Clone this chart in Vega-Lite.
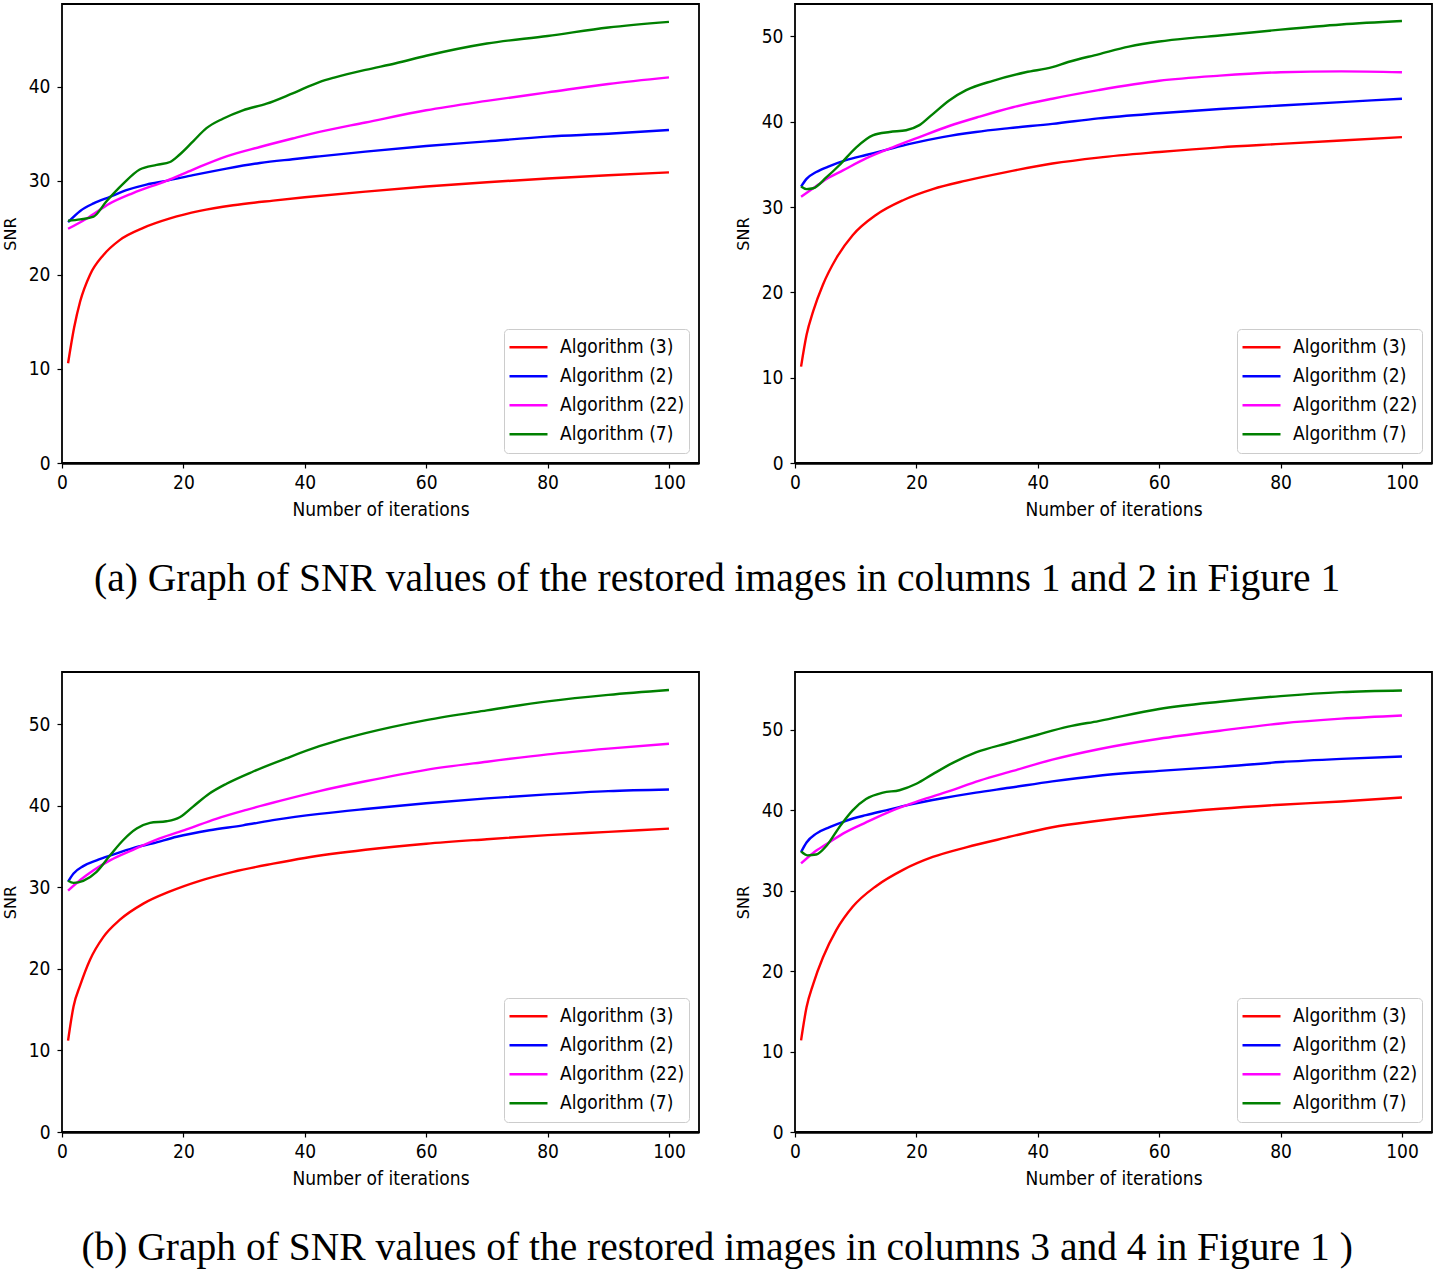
{
  "$schema": "https://vega.github.io/schema/vega-lite/v6.json",
  "padding": {"left": 1, "top": 3, "right": 2, "bottom": 2},
  "background": "white",
  "datasets": {
    "p1": [
      {"a": "Algorithm (3)", "x": 1, "y": 10.6}, {"a": "Algorithm (3)", "x": 2, "y": 14.4}, {"a": "Algorithm (3)", "x": 3, "y": 17.2}, {"a": "Algorithm (3)", "x": 4.6, "y": 20.0}, {"a": "Algorithm (3)", "x": 6.8, "y": 22.1}, {"a": "Algorithm (3)", "x": 9.5, "y": 23.7}, {"a": "Algorithm (3)", "x": 13.4, "y": 25.0}, {"a": "Algorithm (3)", "x": 17.8, "y": 26.0}, {"a": "Algorithm (3)", "x": 22.7, "y": 26.8}, {"a": "Algorithm (3)", "x": 28.2, "y": 27.4}, {"a": "Algorithm (3)", "x": 34.8, "y": 27.9}, {"a": "Algorithm (3)", "x": 40, "y": 28.25}, {"a": "Algorithm (3)", "x": 50, "y": 28.85}, {"a": "Algorithm (3)", "x": 60, "y": 29.4}, {"a": "Algorithm (3)", "x": 70, "y": 29.85}, {"a": "Algorithm (3)", "x": 80, "y": 30.25}, {"a": "Algorithm (3)", "x": 90, "y": 30.6}, {"a": "Algorithm (3)", "x": 100, "y": 30.9},
      {"a": "Algorithm (2)", "x": 1, "y": 25.6}, {"a": "Algorithm (2)", "x": 3, "y": 26.8}, {"a": "Algorithm (2)", "x": 5.2, "y": 27.6}, {"a": "Algorithm (2)", "x": 7.9, "y": 28.3}, {"a": "Algorithm (2)", "x": 10.6, "y": 29.0}, {"a": "Algorithm (2)", "x": 13.9, "y": 29.6}, {"a": "Algorithm (2)", "x": 17.2, "y": 30.0}, {"a": "Algorithm (2)", "x": 21.6, "y": 30.6}, {"a": "Algorithm (2)", "x": 27.1, "y": 31.3}, {"a": "Algorithm (2)", "x": 32.6, "y": 31.9}, {"a": "Algorithm (2)", "x": 38, "y": 32.3}, {"a": "Algorithm (2)", "x": 42.4, "y": 32.6}, {"a": "Algorithm (2)", "x": 50, "y": 33.1}, {"a": "Algorithm (2)", "x": 60, "y": 33.7}, {"a": "Algorithm (2)", "x": 70, "y": 34.2}, {"a": "Algorithm (2)", "x": 80, "y": 34.7}, {"a": "Algorithm (2)", "x": 90, "y": 35.0}, {"a": "Algorithm (2)", "x": 100, "y": 35.4},
      {"a": "Algorithm (22)", "x": 1, "y": 24.9}, {"a": "Algorithm (22)", "x": 4.1, "y": 26.0}, {"a": "Algorithm (22)", "x": 7.9, "y": 27.6}, {"a": "Algorithm (22)", "x": 11.7, "y": 28.7}, {"a": "Algorithm (22)", "x": 17.2, "y": 30.0}, {"a": "Algorithm (22)", "x": 21.6, "y": 31.2}, {"a": "Algorithm (22)", "x": 27.1, "y": 32.6}, {"a": "Algorithm (22)", "x": 32.6, "y": 33.6}, {"a": "Algorithm (22)", "x": 38, "y": 34.5}, {"a": "Algorithm (22)", "x": 42.4, "y": 35.2}, {"a": "Algorithm (22)", "x": 50, "y": 36.2}, {"a": "Algorithm (22)", "x": 60, "y": 37.5}, {"a": "Algorithm (22)", "x": 70, "y": 38.5}, {"a": "Algorithm (22)", "x": 80, "y": 39.4}, {"a": "Algorithm (22)", "x": 90, "y": 40.3}, {"a": "Algorithm (22)", "x": 100, "y": 41.0},
      {"a": "Algorithm (7)", "x": 1, "y": 25.75}, {"a": "Algorithm (7)", "x": 3, "y": 25.9}, {"a": "Algorithm (7)", "x": 5.2, "y": 26.2}, {"a": "Algorithm (7)", "x": 7.3, "y": 27.8}, {"a": "Algorithm (7)", "x": 10.1, "y": 29.7}, {"a": "Algorithm (7)", "x": 12.8, "y": 31.2}, {"a": "Algorithm (7)", "x": 15.6, "y": 31.7}, {"a": "Algorithm (7)", "x": 17.8, "y": 32.0}, {"a": "Algorithm (7)", "x": 19.4, "y": 32.8}, {"a": "Algorithm (7)", "x": 21.6, "y": 34.2}, {"a": "Algorithm (7)", "x": 23.8, "y": 35.6}, {"a": "Algorithm (7)", "x": 26.5, "y": 36.6}, {"a": "Algorithm (7)", "x": 29.8, "y": 37.5}, {"a": "Algorithm (7)", "x": 33.7, "y": 38.2}, {"a": "Algorithm (7)", "x": 38, "y": 39.3}, {"a": "Algorithm (7)", "x": 42.4, "y": 40.5}, {"a": "Algorithm (7)", "x": 45, "y": 41.0}, {"a": "Algorithm (7)", "x": 50, "y": 41.8}, {"a": "Algorithm (7)", "x": 55, "y": 42.5}, {"a": "Algorithm (7)", "x": 60, "y": 43.3}, {"a": "Algorithm (7)", "x": 70, "y": 44.6}, {"a": "Algorithm (7)", "x": 80, "y": 45.4}, {"a": "Algorithm (7)", "x": 90, "y": 46.3}, {"a": "Algorithm (7)", "x": 100, "y": 46.9}
    ],
    "p2": [
      {"a": "Algorithm (3)", "x": 1, "y": 11.3}, {"a": "Algorithm (3)", "x": 1.9, "y": 15.0}, {"a": "Algorithm (3)", "x": 3, "y": 17.8}, {"a": "Algorithm (3)", "x": 4.6, "y": 20.9}, {"a": "Algorithm (3)", "x": 6.8, "y": 24.0}, {"a": "Algorithm (3)", "x": 9.5, "y": 26.7}, {"a": "Algorithm (3)", "x": 13.4, "y": 29.1}, {"a": "Algorithm (3)", "x": 17.8, "y": 30.8}, {"a": "Algorithm (3)", "x": 22.7, "y": 32.1}, {"a": "Algorithm (3)", "x": 28.2, "y": 33.1}, {"a": "Algorithm (3)", "x": 34.8, "y": 34.1}, {"a": "Algorithm (3)", "x": 42.4, "y": 35.1}, {"a": "Algorithm (3)", "x": 50, "y": 35.8}, {"a": "Algorithm (3)", "x": 60, "y": 36.45}, {"a": "Algorithm (3)", "x": 70, "y": 37.0}, {"a": "Algorithm (3)", "x": 80, "y": 37.4}, {"a": "Algorithm (3)", "x": 90, "y": 37.8}, {"a": "Algorithm (3)", "x": 100, "y": 38.2},
      {"a": "Algorithm (2)", "x": 1, "y": 32.4}, {"a": "Algorithm (2)", "x": 1.9, "y": 33.3}, {"a": "Algorithm (2)", "x": 3.5, "y": 34.1}, {"a": "Algorithm (2)", "x": 5.7, "y": 34.8}, {"a": "Algorithm (2)", "x": 8.4, "y": 35.5}, {"a": "Algorithm (2)", "x": 11.7, "y": 36.1}, {"a": "Algorithm (2)", "x": 15, "y": 36.7}, {"a": "Algorithm (2)", "x": 18.9, "y": 37.4}, {"a": "Algorithm (2)", "x": 24.3, "y": 38.2}, {"a": "Algorithm (2)", "x": 29.8, "y": 38.8}, {"a": "Algorithm (2)", "x": 35.3, "y": 39.25}, {"a": "Algorithm (2)", "x": 42.4, "y": 39.75}, {"a": "Algorithm (2)", "x": 50, "y": 40.4}, {"a": "Algorithm (2)", "x": 60, "y": 41.0}, {"a": "Algorithm (2)", "x": 70, "y": 41.5}, {"a": "Algorithm (2)", "x": 80, "y": 41.9}, {"a": "Algorithm (2)", "x": 90, "y": 42.3}, {"a": "Algorithm (2)", "x": 100, "y": 42.7},
      {"a": "Algorithm (22)", "x": 1, "y": 31.2}, {"a": "Algorithm (22)", "x": 3, "y": 32.2}, {"a": "Algorithm (22)", "x": 5.2, "y": 33.3}, {"a": "Algorithm (22)", "x": 7.9, "y": 34.3}, {"a": "Algorithm (22)", "x": 11.7, "y": 35.7}, {"a": "Algorithm (22)", "x": 16.1, "y": 37.0}, {"a": "Algorithm (22)", "x": 20.5, "y": 38.2}, {"a": "Algorithm (22)", "x": 25.4, "y": 39.5}, {"a": "Algorithm (22)", "x": 30.4, "y": 40.6}, {"a": "Algorithm (22)", "x": 35.9, "y": 41.7}, {"a": "Algorithm (22)", "x": 42.4, "y": 42.7}, {"a": "Algorithm (22)", "x": 50, "y": 43.7}, {"a": "Algorithm (22)", "x": 60, "y": 44.8}, {"a": "Algorithm (22)", "x": 70, "y": 45.4}, {"a": "Algorithm (22)", "x": 80, "y": 45.8}, {"a": "Algorithm (22)", "x": 90, "y": 45.9}, {"a": "Algorithm (22)", "x": 100, "y": 45.8},
      {"a": "Algorithm (7)", "x": 1, "y": 32.4}, {"a": "Algorithm (7)", "x": 1.9, "y": 32.1}, {"a": "Algorithm (7)", "x": 3, "y": 32.2}, {"a": "Algorithm (7)", "x": 5.2, "y": 33.5}, {"a": "Algorithm (7)", "x": 7.3, "y": 34.9}, {"a": "Algorithm (7)", "x": 10.1, "y": 37.0}, {"a": "Algorithm (7)", "x": 12.8, "y": 38.4}, {"a": "Algorithm (7)", "x": 15.6, "y": 38.8}, {"a": "Algorithm (7)", "x": 18.3, "y": 39.0}, {"a": "Algorithm (7)", "x": 20.5, "y": 39.6}, {"a": "Algorithm (7)", "x": 22.7, "y": 40.9}, {"a": "Algorithm (7)", "x": 25.4, "y": 42.5}, {"a": "Algorithm (7)", "x": 28.2, "y": 43.7}, {"a": "Algorithm (7)", "x": 32.6, "y": 44.8}, {"a": "Algorithm (7)", "x": 38, "y": 45.8}, {"a": "Algorithm (7)", "x": 42.4, "y": 46.4}, {"a": "Algorithm (7)", "x": 45, "y": 47.0}, {"a": "Algorithm (7)", "x": 50, "y": 47.9}, {"a": "Algorithm (7)", "x": 55, "y": 48.8}, {"a": "Algorithm (7)", "x": 60, "y": 49.4}, {"a": "Algorithm (7)", "x": 65, "y": 49.8}, {"a": "Algorithm (7)", "x": 70, "y": 50.1}, {"a": "Algorithm (7)", "x": 80, "y": 50.8}, {"a": "Algorithm (7)", "x": 90, "y": 51.4}, {"a": "Algorithm (7)", "x": 100, "y": 51.8}
    ],
    "p3": [
      {"a": "Algorithm (3)", "x": 1, "y": 11.2}, {"a": "Algorithm (3)", "x": 1.9, "y": 15.4}, {"a": "Algorithm (3)", "x": 3, "y": 18.0}, {"a": "Algorithm (3)", "x": 4.6, "y": 21.1}, {"a": "Algorithm (3)", "x": 6.8, "y": 23.9}, {"a": "Algorithm (3)", "x": 9.5, "y": 26.0}, {"a": "Algorithm (3)", "x": 13.4, "y": 28.0}, {"a": "Algorithm (3)", "x": 17.8, "y": 29.5}, {"a": "Algorithm (3)", "x": 22.7, "y": 30.8}, {"a": "Algorithm (3)", "x": 28.2, "y": 31.9}, {"a": "Algorithm (3)", "x": 34.8, "y": 32.9}, {"a": "Algorithm (3)", "x": 40, "y": 33.6}, {"a": "Algorithm (3)", "x": 50, "y": 34.6}, {"a": "Algorithm (3)", "x": 60, "y": 35.35}, {"a": "Algorithm (3)", "x": 70, "y": 35.9}, {"a": "Algorithm (3)", "x": 80, "y": 36.4}, {"a": "Algorithm (3)", "x": 90, "y": 36.8}, {"a": "Algorithm (3)", "x": 100, "y": 37.2},
      {"a": "Algorithm (2)", "x": 1, "y": 30.7}, {"a": "Algorithm (2)", "x": 1.9, "y": 31.7}, {"a": "Algorithm (2)", "x": 3.5, "y": 32.6}, {"a": "Algorithm (2)", "x": 5.7, "y": 33.3}, {"a": "Algorithm (2)", "x": 8.4, "y": 34.0}, {"a": "Algorithm (2)", "x": 11.7, "y": 34.8}, {"a": "Algorithm (2)", "x": 15, "y": 35.4}, {"a": "Algorithm (2)", "x": 18.9, "y": 36.2}, {"a": "Algorithm (2)", "x": 24.3, "y": 37.0}, {"a": "Algorithm (2)", "x": 29.8, "y": 37.6}, {"a": "Algorithm (2)", "x": 35.3, "y": 38.3}, {"a": "Algorithm (2)", "x": 42.4, "y": 39.0}, {"a": "Algorithm (2)", "x": 50, "y": 39.6}, {"a": "Algorithm (2)", "x": 60, "y": 40.3}, {"a": "Algorithm (2)", "x": 70, "y": 40.9}, {"a": "Algorithm (2)", "x": 80, "y": 41.4}, {"a": "Algorithm (2)", "x": 90, "y": 41.8}, {"a": "Algorithm (2)", "x": 100, "y": 42.0},
      {"a": "Algorithm (22)", "x": 1, "y": 29.6}, {"a": "Algorithm (22)", "x": 3, "y": 30.9}, {"a": "Algorithm (22)", "x": 5.2, "y": 32.1}, {"a": "Algorithm (22)", "x": 7.9, "y": 33.3}, {"a": "Algorithm (22)", "x": 11.7, "y": 34.6}, {"a": "Algorithm (22)", "x": 16.1, "y": 36.0}, {"a": "Algorithm (22)", "x": 20.5, "y": 37.1}, {"a": "Algorithm (22)", "x": 25.4, "y": 38.4}, {"a": "Algorithm (22)", "x": 30.4, "y": 39.5}, {"a": "Algorithm (22)", "x": 35.9, "y": 40.6}, {"a": "Algorithm (22)", "x": 42.4, "y": 41.8}, {"a": "Algorithm (22)", "x": 50, "y": 43.0}, {"a": "Algorithm (22)", "x": 60, "y": 44.4}, {"a": "Algorithm (22)", "x": 70, "y": 45.4}, {"a": "Algorithm (22)", "x": 80, "y": 46.3}, {"a": "Algorithm (22)", "x": 90, "y": 47.0}, {"a": "Algorithm (22)", "x": 100, "y": 47.6},
      {"a": "Algorithm (7)", "x": 1, "y": 30.8}, {"a": "Algorithm (7)", "x": 1.9, "y": 30.55}, {"a": "Algorithm (7)", "x": 3.5, "y": 30.8}, {"a": "Algorithm (7)", "x": 5.7, "y": 31.9}, {"a": "Algorithm (7)", "x": 7.9, "y": 33.9}, {"a": "Algorithm (7)", "x": 10.1, "y": 35.8}, {"a": "Algorithm (7)", "x": 12.3, "y": 37.2}, {"a": "Algorithm (7)", "x": 14.5, "y": 37.9}, {"a": "Algorithm (7)", "x": 17.2, "y": 38.1}, {"a": "Algorithm (7)", "x": 19.4, "y": 38.6}, {"a": "Algorithm (7)", "x": 21.6, "y": 39.9}, {"a": "Algorithm (7)", "x": 24.3, "y": 41.5}, {"a": "Algorithm (7)", "x": 27.1, "y": 42.7}, {"a": "Algorithm (7)", "x": 31.5, "y": 44.2}, {"a": "Algorithm (7)", "x": 36.9, "y": 45.8}, {"a": "Algorithm (7)", "x": 42.4, "y": 47.3}, {"a": "Algorithm (7)", "x": 45, "y": 47.9}, {"a": "Algorithm (7)", "x": 50, "y": 48.9}, {"a": "Algorithm (7)", "x": 60, "y": 50.5}, {"a": "Algorithm (7)", "x": 70, "y": 51.7}, {"a": "Algorithm (7)", "x": 80, "y": 52.8}, {"a": "Algorithm (7)", "x": 90, "y": 53.6}, {"a": "Algorithm (7)", "x": 100, "y": 54.2}
    ],
    "p4": [
      {"a": "Algorithm (3)", "x": 1, "y": 11.4}, {"a": "Algorithm (3)", "x": 1.9, "y": 15.5}, {"a": "Algorithm (3)", "x": 3, "y": 18.4}, {"a": "Algorithm (3)", "x": 4.6, "y": 21.7}, {"a": "Algorithm (3)", "x": 6.8, "y": 25.1}, {"a": "Algorithm (3)", "x": 9.5, "y": 28.0}, {"a": "Algorithm (3)", "x": 13.4, "y": 30.6}, {"a": "Algorithm (3)", "x": 17.8, "y": 32.6}, {"a": "Algorithm (3)", "x": 22.7, "y": 34.2}, {"a": "Algorithm (3)", "x": 28.2, "y": 35.4}, {"a": "Algorithm (3)", "x": 34.8, "y": 36.6}, {"a": "Algorithm (3)", "x": 42.4, "y": 37.9}, {"a": "Algorithm (3)", "x": 50, "y": 38.7}, {"a": "Algorithm (3)", "x": 60, "y": 39.55}, {"a": "Algorithm (3)", "x": 70, "y": 40.2}, {"a": "Algorithm (3)", "x": 80, "y": 40.7}, {"a": "Algorithm (3)", "x": 90, "y": 41.1}, {"a": "Algorithm (3)", "x": 100, "y": 41.6},
      {"a": "Algorithm (2)", "x": 1, "y": 34.8}, {"a": "Algorithm (2)", "x": 1.9, "y": 36.0}, {"a": "Algorithm (2)", "x": 3.5, "y": 37.1}, {"a": "Algorithm (2)", "x": 5.7, "y": 37.9}, {"a": "Algorithm (2)", "x": 8.4, "y": 38.7}, {"a": "Algorithm (2)", "x": 11.7, "y": 39.4}, {"a": "Algorithm (2)", "x": 15, "y": 40.0}, {"a": "Algorithm (2)", "x": 18.9, "y": 40.7}, {"a": "Algorithm (2)", "x": 24.3, "y": 41.5}, {"a": "Algorithm (2)", "x": 29.8, "y": 42.2}, {"a": "Algorithm (2)", "x": 35.3, "y": 42.8}, {"a": "Algorithm (2)", "x": 42.4, "y": 43.6}, {"a": "Algorithm (2)", "x": 50, "y": 44.3}, {"a": "Algorithm (2)", "x": 60, "y": 44.9}, {"a": "Algorithm (2)", "x": 70, "y": 45.4}, {"a": "Algorithm (2)", "x": 80, "y": 46.0}, {"a": "Algorithm (2)", "x": 90, "y": 46.4}, {"a": "Algorithm (2)", "x": 100, "y": 46.7},
      {"a": "Algorithm (22)", "x": 1, "y": 33.4}, {"a": "Algorithm (22)", "x": 3, "y": 34.7}, {"a": "Algorithm (22)", "x": 5.2, "y": 35.8}, {"a": "Algorithm (22)", "x": 7.9, "y": 37.1}, {"a": "Algorithm (22)", "x": 11.7, "y": 38.5}, {"a": "Algorithm (22)", "x": 16.1, "y": 40.0}, {"a": "Algorithm (22)", "x": 20.5, "y": 41.2}, {"a": "Algorithm (22)", "x": 25.4, "y": 42.4}, {"a": "Algorithm (22)", "x": 30.4, "y": 43.7}, {"a": "Algorithm (22)", "x": 35.9, "y": 44.9}, {"a": "Algorithm (22)", "x": 42.4, "y": 46.3}, {"a": "Algorithm (22)", "x": 50, "y": 47.6}, {"a": "Algorithm (22)", "x": 60, "y": 48.9}, {"a": "Algorithm (22)", "x": 70, "y": 49.9}, {"a": "Algorithm (22)", "x": 80, "y": 50.8}, {"a": "Algorithm (22)", "x": 90, "y": 51.4}, {"a": "Algorithm (22)", "x": 100, "y": 51.8},
      {"a": "Algorithm (7)", "x": 1, "y": 34.9}, {"a": "Algorithm (7)", "x": 2.1, "y": 34.4}, {"a": "Algorithm (7)", "x": 3.5, "y": 34.5}, {"a": "Algorithm (7)", "x": 5.2, "y": 35.6}, {"a": "Algorithm (7)", "x": 7.3, "y": 37.9}, {"a": "Algorithm (7)", "x": 9.5, "y": 40.0}, {"a": "Algorithm (7)", "x": 11.7, "y": 41.4}, {"a": "Algorithm (7)", "x": 14.5, "y": 42.2}, {"a": "Algorithm (7)", "x": 17.2, "y": 42.5}, {"a": "Algorithm (7)", "x": 20, "y": 43.3}, {"a": "Algorithm (7)", "x": 22.7, "y": 44.5}, {"a": "Algorithm (7)", "x": 26, "y": 45.9}, {"a": "Algorithm (7)", "x": 29.8, "y": 47.2}, {"a": "Algorithm (7)", "x": 35.3, "y": 48.4}, {"a": "Algorithm (7)", "x": 40, "y": 49.4}, {"a": "Algorithm (7)", "x": 45, "y": 50.4}, {"a": "Algorithm (7)", "x": 50, "y": 51.1}, {"a": "Algorithm (7)", "x": 60, "y": 52.6}, {"a": "Algorithm (7)", "x": 70, "y": 53.5}, {"a": "Algorithm (7)", "x": 80, "y": 54.2}, {"a": "Algorithm (7)", "x": 90, "y": 54.7}, {"a": "Algorithm (7)", "x": 100, "y": 54.9}
    ]
  },
  "vconcat": [
    {
      "title": {"text": "(a) Graph of SNR values of the restored images in columns 1 and 2 in Figure 1", "orient": "bottom", "anchor": "middle", "offset": 40},
      "spacing": 34,
      "hconcat": [
        {
          "width": 637, "height": 459,
          "data": {"name": "p1"},
          "mark": {"type": "line", "strokeWidth": 2.4, "interpolate": "monotone"},
          "encoding": {
            "x": {"field": "x", "type": "quantitative", "scale": {"domain": [0, 104.95], "nice": false, "zero": false}, "axis": {"values": [0, 20, 40, 60, 80, 100], "title": "Number of iterations"}},
            "y": {"field": "y", "type": "quantitative", "scale": {"domain": [0, 48.8], "nice": false}, "axis": {"values": [0, 10, 20, 30, 40], "title": "SNR"}},
            "color": {"field": "a", "type": "nominal", "scale": {"domain": ["Algorithm (3)", "Algorithm (2)", "Algorithm (22)", "Algorithm (7)"], "range": ["#ff0000", "#0000ff", "#ff00ff", "#008000"]}, "legend": {"title": null}}
          }
        },
        {
          "width": 637, "height": 459,
          "data": {"name": "p2"},
          "mark": {"type": "line", "strokeWidth": 2.4, "interpolate": "monotone"},
          "encoding": {
            "x": {"field": "x", "type": "quantitative", "scale": {"domain": [0, 104.95], "nice": false, "zero": false}, "axis": {"values": [0, 20, 40, 60, 80, 100], "title": "Number of iterations"}},
            "y": {"field": "y", "type": "quantitative", "scale": {"domain": [0, 53.8], "nice": false}, "axis": {"values": [0, 10, 20, 30, 40, 50], "title": "SNR"}},
            "color": {"field": "a", "type": "nominal", "scale": {"domain": ["Algorithm (3)", "Algorithm (2)", "Algorithm (22)", "Algorithm (7)"], "range": ["#ff0000", "#0000ff", "#ff00ff", "#008000"]}, "legend": {"title": null}}
          }
        }
      ],
      "resolve": {"scale": {"color": "independent", "x": "independent", "y": "independent"}, "legend": {"color": "independent"}}
    },
    {
      "title": {"text": "(b) Graph of SNR values of the restored images in columns 3 and 4 in Figure 1 )", "orient": "bottom", "anchor": "middle", "offset": 40},
      "spacing": 34,
      "hconcat": [
        {
          "width": 637, "height": 460,
          "data": {"name": "p3"},
          "mark": {"type": "line", "strokeWidth": 2.4, "interpolate": "monotone"},
          "encoding": {
            "x": {"field": "x", "type": "quantitative", "scale": {"domain": [0, 104.95], "nice": false, "zero": false}, "axis": {"values": [0, 20, 40, 60, 80, 100], "title": "Number of iterations"}},
            "y": {"field": "y", "type": "quantitative", "scale": {"domain": [0, 56.4], "nice": false}, "axis": {"values": [0, 10, 20, 30, 40, 50], "title": "SNR"}},
            "color": {"field": "a", "type": "nominal", "scale": {"domain": ["Algorithm (3)", "Algorithm (2)", "Algorithm (22)", "Algorithm (7)"], "range": ["#ff0000", "#0000ff", "#ff00ff", "#008000"]}, "legend": {"title": null}}
          }
        },
        {
          "width": 637, "height": 460,
          "data": {"name": "p4"},
          "mark": {"type": "line", "strokeWidth": 2.4, "interpolate": "monotone"},
          "encoding": {
            "x": {"field": "x", "type": "quantitative", "scale": {"domain": [0, 104.95], "nice": false, "zero": false}, "axis": {"values": [0, 20, 40, 60, 80, 100], "title": "Number of iterations"}},
            "y": {"field": "y", "type": "quantitative", "scale": {"domain": [0, 57.2], "nice": false}, "axis": {"values": [0, 10, 20, 30, 40, 50], "title": "SNR"}},
            "color": {"field": "a", "type": "nominal", "scale": {"domain": ["Algorithm (3)", "Algorithm (2)", "Algorithm (22)", "Algorithm (7)"], "range": ["#ff0000", "#0000ff", "#ff00ff", "#008000"]}, "legend": {"title": null}}
          }
        }
      ],
      "resolve": {"scale": {"color": "independent", "x": "independent", "y": "independent"}, "legend": {"color": "independent"}}
    }
  ],
  "spacing": 72,
  "resolve": {"scale": {"color": "independent", "x": "independent", "y": "independent"}, "legend": {"color": "independent"}},
  "config": {
    "view": {"stroke": "black", "strokeWidth": 1.8},
    "axis": {"grid": false, "domain": false, "labelFlush": false, "tickColor": "black", "tickSize": 5, "tickWidth": 1.2, "labelFont": "DejaVu Sans Condensed", "labelFontSize": 19, "labelColor": "black", "labelPadding": 5, "titleFont": "DejaVu Sans Condensed", "titleFontSize": 19, "titleFontWeight": "normal", "titleColor": "black"},
    "axisX": {"titlePadding": 8, "domain": true, "domainColor": "black", "domainWidth": 2.6},
    "axisY": {"titleFont": "DejaVu Sans", "titleFontSize": 16, "titlePadding": 10, "labelPadding": 7},
    "legend": {"orient": "bottom-right", "offset": 10, "symbolType": "stroke", "symbolSize": 1444, "symbolStrokeWidth": 2.6, "clipHeight": 28.5, "labelFont": "DejaVu Sans Condensed", "labelFontSize": 19, "labelColor": "black", "labelOffset": 11, "rowPadding": 0, "padding": 4, "fillColor": "white", "strokeColor": "#cccccc", "cornerRadius": 4},
    "title": {"font": "Liberation Serif", "fontSize": 39.5, "fontWeight": "normal", "color": "black"}
  }
}
